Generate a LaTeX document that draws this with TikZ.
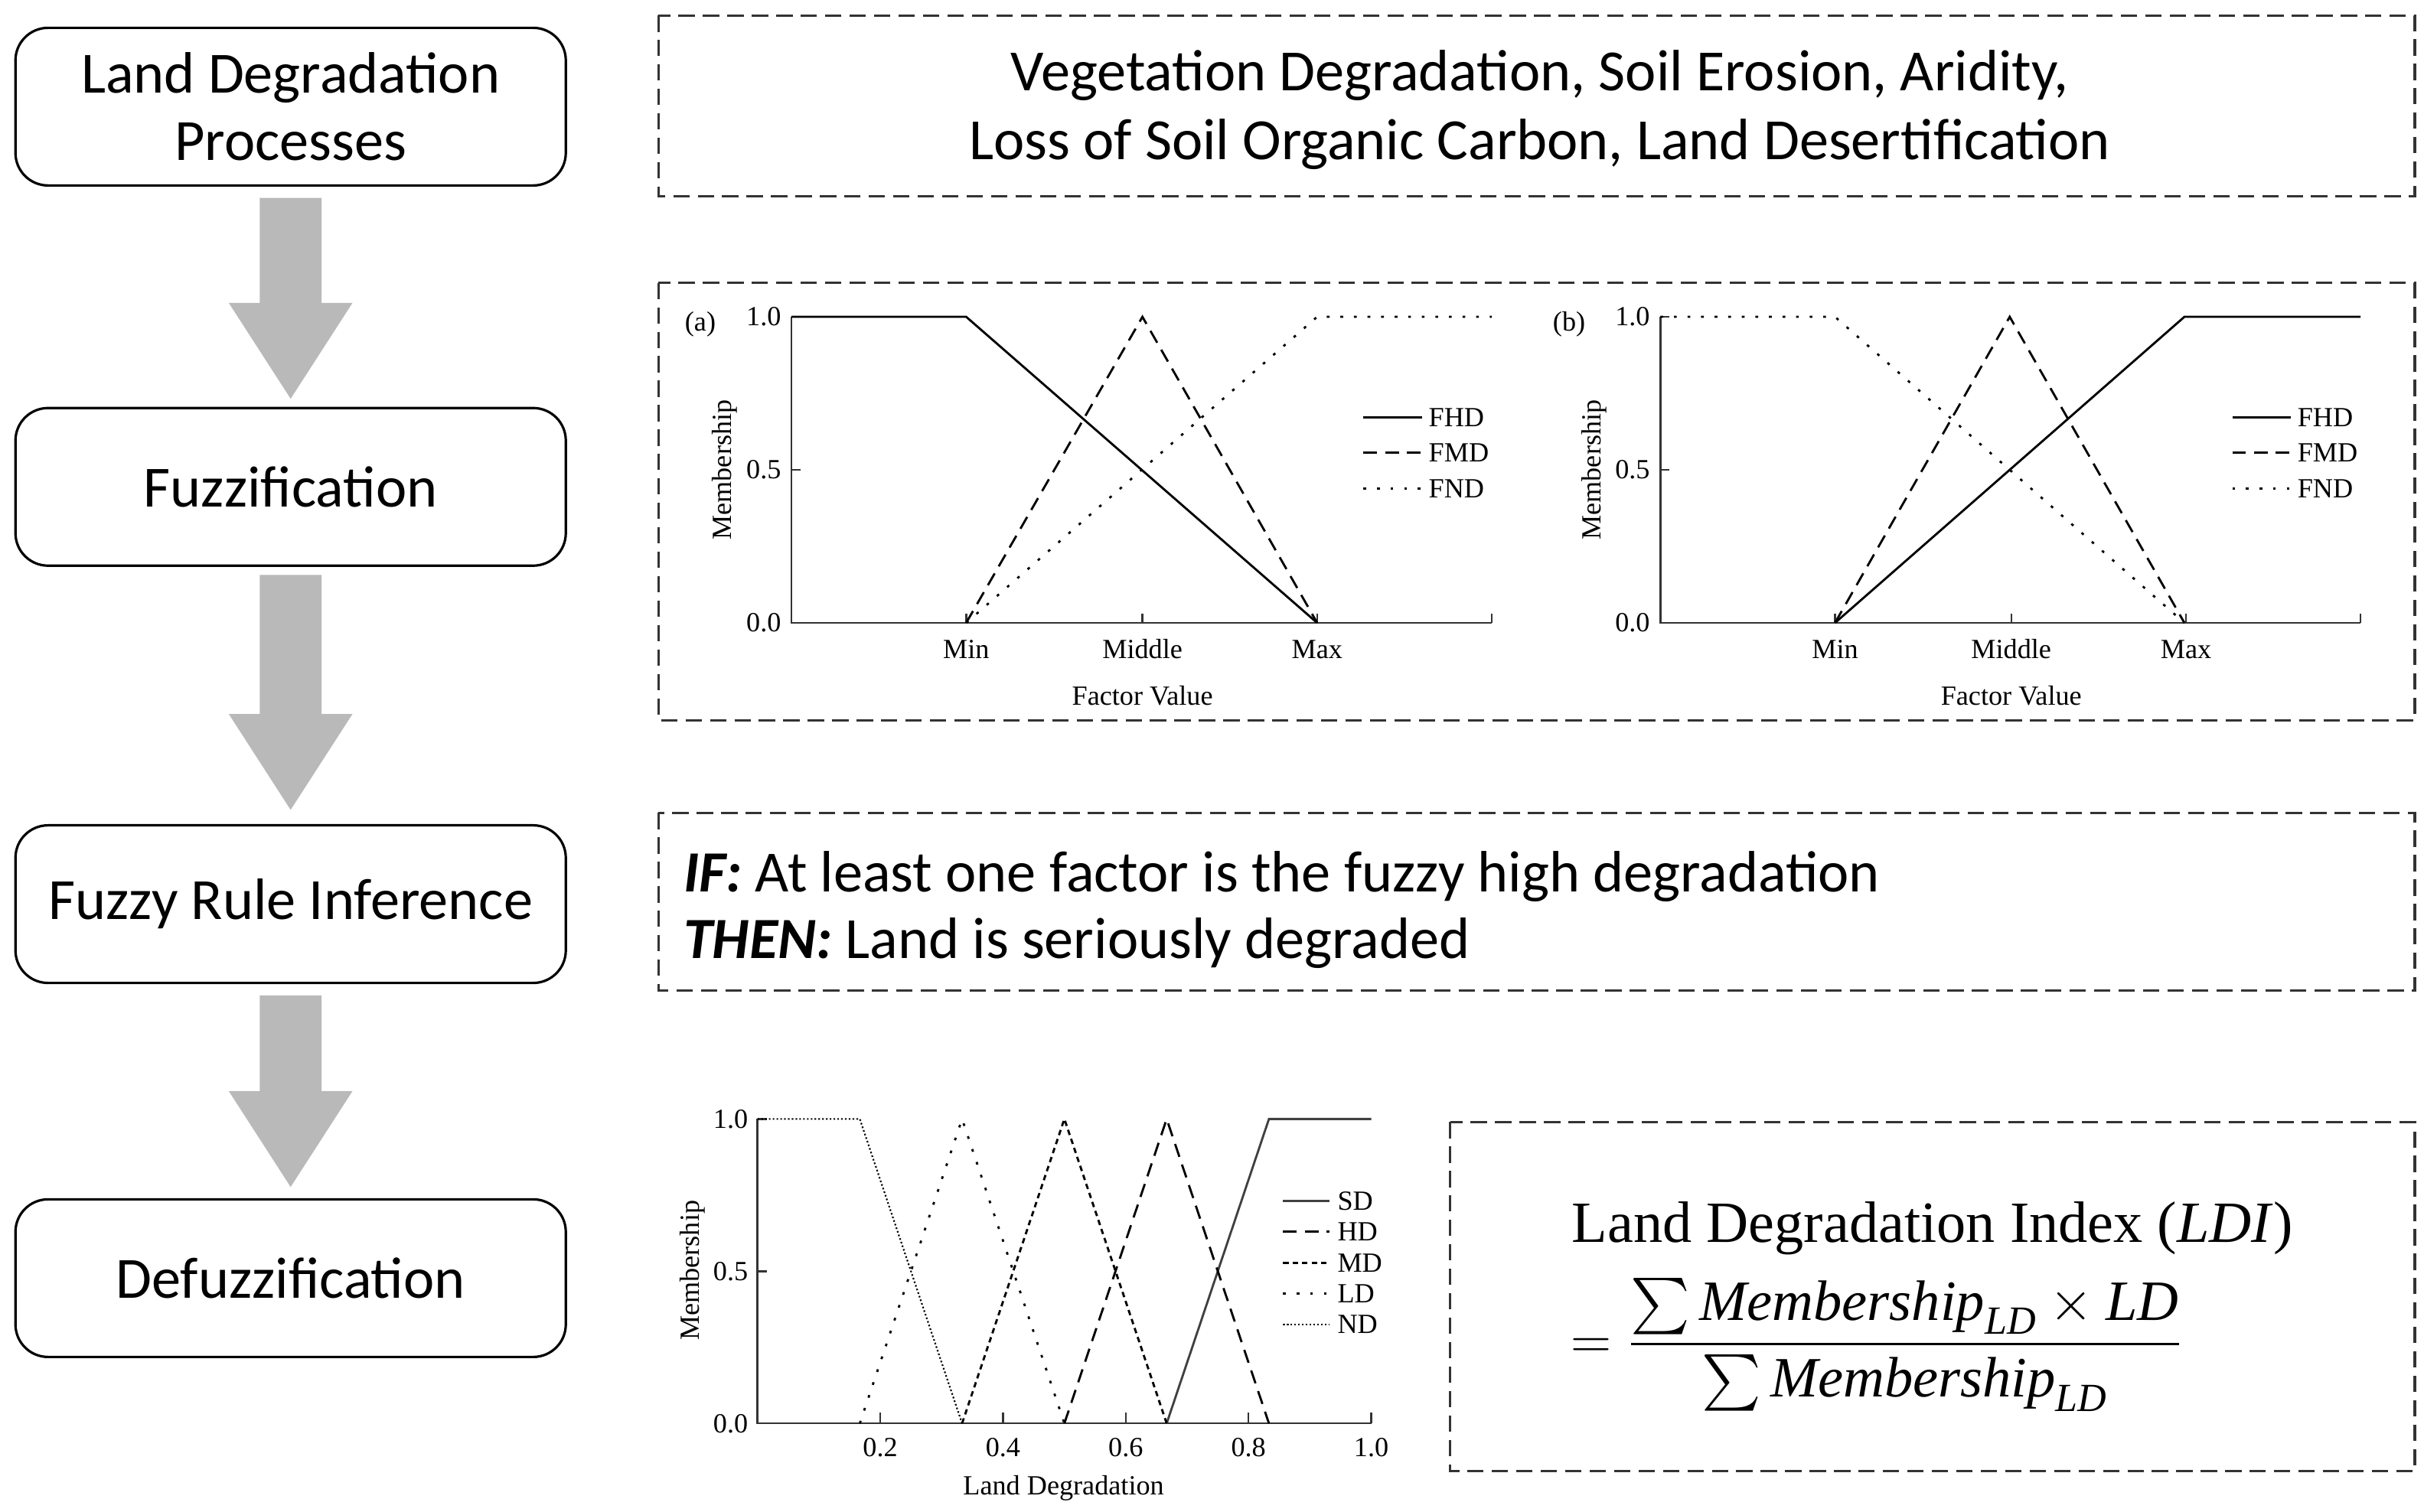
\documentclass[tikz,border=0pt]{standalone}
\usepackage{amsmath}
\usepackage{fontspec}
\setmainfont{Carlito}
\newfontfamily\chf{Liberation Serif}
\newcommand{\mi}[1]{\text{\chf\itshape #1}}
\begin{document}
\begin{tikzpicture}[x=0.02cm,y=-0.02cm,
  stepbox/.style={draw,rounded corners=12pt,line width=0.9pt,minimum width=356*0.02cm,minimum height=102*0.02cm,font=\fontsize{21.5}{25}\selectfont,align=center},
  dbox/.style={draw,dashed,dash pattern=on 6pt off 3pt,line width=0.9pt,gray!40!black},
  garrow/.style={fill=gray!55,draw=none},
  ct/.style={font=\chf\fontsize{10.2}{12}\selectfont},
  ax/.style={line width=0.7pt,gray!40!black},
  cv/.style={line width=0.8pt},
  lsSD/.style={gray!50!black},
  lsHD/.style={dash pattern=on 5pt off 3pt},
  lsMD/.style={dash pattern=on 2pt off 1.5pt},
  lsLD/.style={dash pattern=on 1pt off 4pt},
  lsND/.style={line width=0.6pt,dash pattern=on 0.6pt off 0.8pt}]
\useasboundingbox (0,0) rectangle (1568,978);
% left steps
\node[stepbox] (s1) at (188,69) {Land Degradation\\Processes};
\node[stepbox] (s2) at (188,315) {Fuzzification};
\node[stepbox] (s3) at (188,585) {Fuzzy Rule Inference};
\node[stepbox] (s4) at (188,827) {Defuzzification};
% arrows
\foreach \a/\b in {128/258,372/524,644/768}{
  \fill[garrow] (168,\a) -- (208,\a) -- (208,\b-62) -- (228,\b-62) -- (188,\b) -- (148,\b-62) -- (168,\b-62) -- cycle;}
% dashed boxes
\draw[dbox] (426,10) rectangle (1562,127);
\node[font=\fontsize{21.5}{25.5}\selectfont,align=center] (t1) at (996,71) {Vegetation Degradation, Soil Erosion, Aridity,\\Loss of Soil Organic Carbon, Land Desertification};
\draw[dbox] (426,183) rectangle (1562,466);
\draw[dbox] (426,526) rectangle (1562,641);
\node[font=\fontsize{21.5}{25}\selectfont,anchor=west] (if) at (436,567) {\textbf{\textit{IF:}} At least one factor is the fuzzy high degradation};
\node[font=\fontsize{21.5}{25}\selectfont,anchor=west] (th) at (436,610) {\textbf{\textit{THEN:}} Land is seriously degraded};
\draw[dbox] (938,726) rectangle (1562,952);
\node[font=\chf\fontsize{21.5}{24}\selectfont] (f1) at (1250,795) {Land Degradation Index (\textit{LDI})};
\node[font=\fontsize{21}{24}\selectfont] (f2) at (1214,870) {$=\dfrac{\sum \mi{Membership}_{\mi{LD}}\times \mi{LD}}{\sum \mi{Membership}_{\mi{LD}}}$};
% chart a and b
\foreach \ox/\lab in {0/a,562/b}{
 \begin{scope}[xshift=\ox*0.02cm]
  \draw[ax] (512,205) -- (512,403) -- (965,403);
  \foreach \x in {625,739,852,965} \draw[ax] (\x,403) -- (\x,397);
  \foreach \y in {205,304} \draw[ax] (512,\y) -- (518,\y);
  \node[ct] at (494,205) {1.0};
  \node[ct] at (494,304) {0.5};
  \node[ct] at (494,403) {0.0};
  \node[ct] at (453,210) {(\lab)};
  \node[ct,rotate=90] at (469,304) {Membership};
  \node[ct] at (625,420) {Min};
  \node[ct] at (739,420) {Middle};
  \node[ct] at (852,420) {Max};
  \node[ct] at (739,450) {Factor Value};
  \draw[cv] (882,270) -- (920,270); \node[ct,anchor=west] at (918,270) {FHD};
  \draw[cv,dash pattern=on 5pt off 3pt] (882,293) -- (920,293); \node[ct,anchor=west] at (918,293) {FMD};
  \draw[cv,dash pattern=on 1pt off 4pt] (882,316) -- (920,316); \node[ct,anchor=west] at (918,316) {FND};
 \end{scope}}
% curves a
\draw[cv] (512,205) -- (625,205) -- (852,403);
\draw[cv,dash pattern=on 5pt off 3pt] (625,403) -- (739,205) -- (852,403);
\draw[cv,dash pattern=on 1pt off 4pt] (625,403) -- (852,205) -- (965,205);
% curves b
\draw[cv] (1187,403) -- (1413,205) -- (1527,205);
\draw[cv,dash pattern=on 5pt off 3pt] (1187,403) -- (1300,205) -- (1413,403);
\draw[cv,dash pattern=on 1pt off 4pt] (1074,205) -- (1187,205) -- (1413,403);
% chart c
\begin{scope}[x=0.02*397cm,y=0.02*197cm,shift={(490*0.02cm,-921*0.02cm)}]
  \draw[ax] (0,1) -- (0,0) -- (1,0);
  \foreach \v in {0.2,0.4,0.6,0.8,1.0}{\draw[ax] (\v,0) -- (\v,0.035); \node[ct] at (\v,-0.08) {\v};}
  \draw[ax] (0,0.5) -- (0.015,0.5); \draw[ax] (0,1) -- (0.015,1);
  \node[ct,left] at (0,1) {1.0};
  \node[ct,left] at (0,0.5) {0.5};
  \node[ct,left] at (0,0) {0.0};
  \draw[cv,lsSD] (2/3,0) -- (5/6,1) -- (1,1);
  \draw[cv,lsHD] (0.5,0) -- (2/3,1) -- (5/6,0);
  \draw[cv,lsMD] (1/3,0) -- (0.5,1) -- (2/3,0);
  \draw[cv,lsLD] (1/6,0) -- (1/3,1) -- (0.5,0);
  \draw[cv,lsND] (0,1) -- (1/6,1) -- (1/3,0);
\end{scope}
\node[ct,rotate=90] at (448,822) {Membership};
\node[ct] at (688,963) {Land Degradation};
\foreach \y/\t in {777/SD,797/HD,817/MD,837/LD,857/ND}{
  \draw[cv,ls\t] (830,\y) -- (860,\y); \node[ct,anchor=west] at (859,\y) {\t};}
\end{tikzpicture}
\end{document}
